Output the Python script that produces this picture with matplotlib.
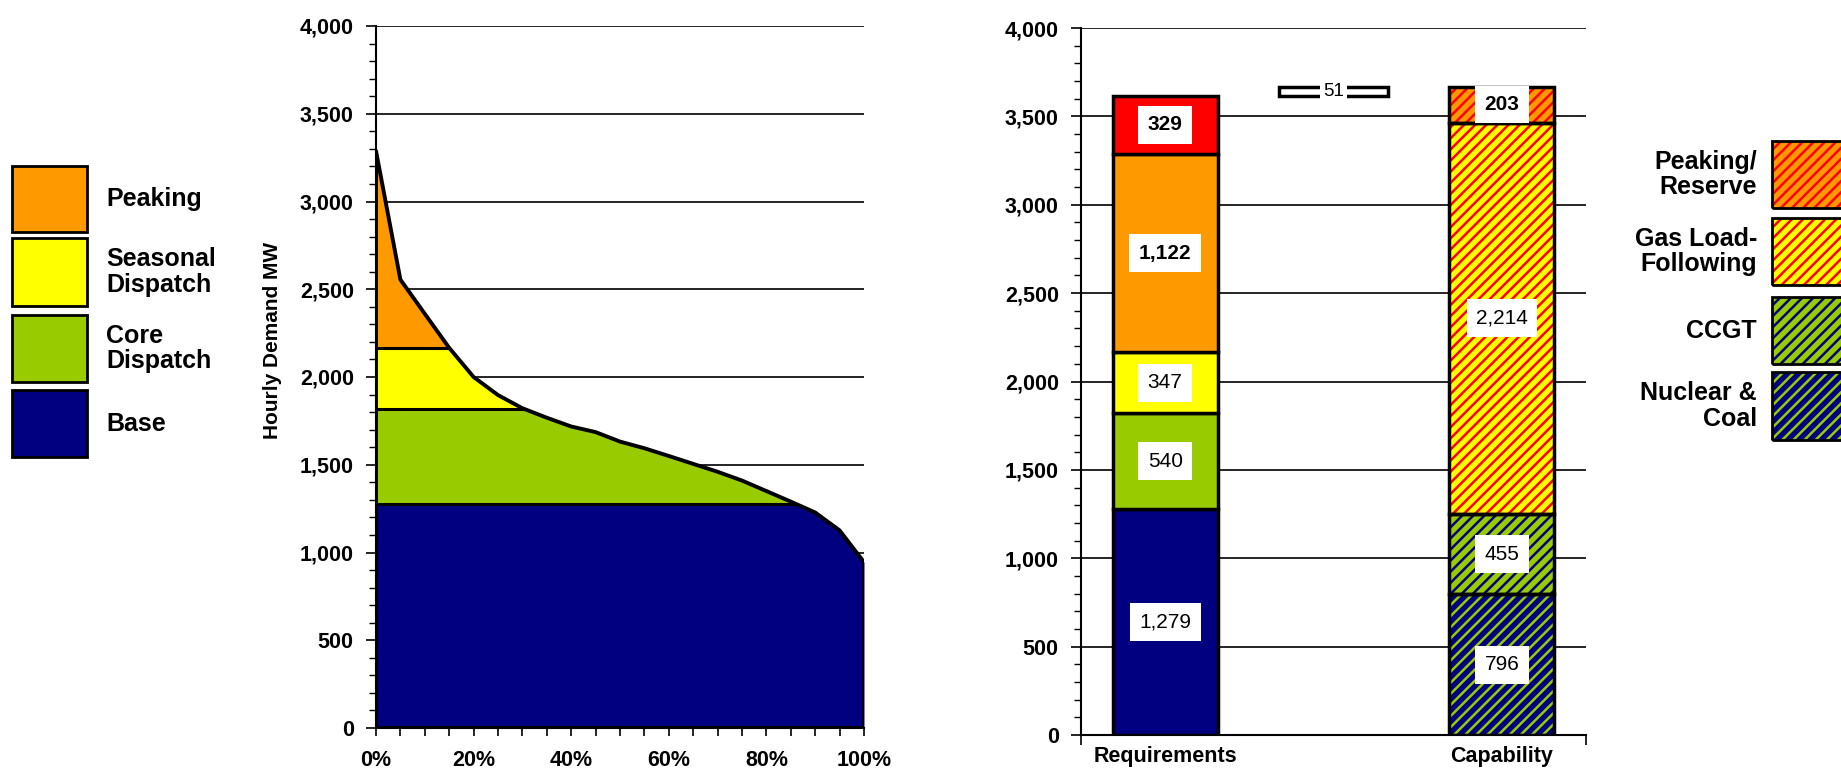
import matplotlib
matplotlib.use("Agg")
import matplotlib.pyplot as plt
from matplotlib import font_manager
from matplotlib.patches import Rectangle
from matplotlib.ticker import MultipleLocator, FuncFormatter

# load duration curve (percent of hours vs hourly demand, MW)
duration_pct = [0, 5, 10, 15, 20, 25, 30, 35, 40, 45, 50,
                55, 60, 65, 70, 75, 80, 85, 90, 95, 100]
hourly_demand = [3288, 2555, 2360, 2166, 2000, 1897, 1822, 1768, 1718, 1686, 1632,
                 1594, 1550, 1505, 1460, 1410, 1350, 1290, 1228, 1126, 945]

# requirements stack (bottom -> top)
req_labels = ["Base", "Core Dispatch", "Seasonal Dispatch", "Peaking", "Reserve"]
req_values = [1279, 540, 347, 1122, 329]
req_colors = ["#000080", "#99CC00", "#FFFF00", "#FF9900", "#FF0000"]
req_bold = [False, False, False, True, True]

# capability stack (bottom -> top)
cap_labels = ["Nuclear &\nCoal", "CCGT", "Gas Load-\nFollowing", "Peaking/\nReserve"]
cap_values = [796, 455, 2214, 203]
cap_face = ["#000080", "#99CC00", "#FFFF00", "#FF9900"]
cap_stripe = ["#99CC00", "#000080", "#FF0000", "#FF0000"]
cap_bold = [False, False, False, True]

categories = ["Requirements", "", "Capability"]
surplus = sum(cap_values) - sum(req_values)

W, H = 1841, 771
plt.rcParams["hatch.linewidth"] = 1.8
plt.rcParams["font.family"] = ["Liberation Sans", "DejaVu Sans"]
names = {f.name for f in font_manager.fontManager.ttflist}
narrow = "Liberation Sans Narrow" if "Liberation Sans Narrow" in names else "Liberation Sans"


def rect_fig(x0, y0, x1, y1):
    # pixel box (top-left origin) -> figure fraction rect
    return [x0 / W, 1 - y1 / H, (x1 - x0) / W, (y1 - y0) / H]


fig = plt.figure(figsize=(W / 100, H / 100), dpi=100)
ax1 = fig.add_axes(rect_fig(376, 26, 864, 728))
ax2 = fig.add_axes(rect_fig(1081, 28, 1586, 735))

tick_font = dict(fontsize=15.5, fontweight="bold")
thousands = FuncFormatter(lambda v, p: "{:,.0f}".format(v))

# ---------------- left: load duration curve ----------------
bounds = [0]
for v in req_values[:3]:
    bounds.append(bounds[-1] + v)
bounds.append(4000)
for i in range(4):
    poly = ax1.fill_between(duration_pct, 0, hourly_demand, color=req_colors[i], lw=0, zorder=2)
    clip = Rectangle((0, bounds[i]), 100, bounds[i + 1] - bounds[i], transform=ax1.transData)
    poly.set_clip_path(clip)

outline = ax1.fill_between(duration_pct, 0, hourly_demand, facecolor="none",
                           edgecolor="k", lw=2.8, zorder=4)
for level in bounds[1:4]:
    ln = ax1.axhline(level, color="k", lw=2.2, zorder=3)
    ln.set_clip_path(outline.get_paths()[0], ax1.transData)

ax1.set_xlim(0, 100)
ax1.set_ylim(0, 4000)
ax1.xaxis.set_major_locator(MultipleLocator(20))
ax1.xaxis.set_minor_locator(MultipleLocator(5))
ax1.xaxis.set_major_formatter(FuncFormatter(lambda v, p: "{:.0f}%".format(v)))

# ---------------- right: requirements vs capability ----------------
bw = 0.625
label_box = dict(boxstyle="square,pad=0.45", fc="white", ec="none")
bottom = 0
for val, col, bold in zip(req_values, req_colors, req_bold):
    ax2.bar(0, val, bottom=bottom, width=bw, color=col, edgecolor="k", lw=2.5, zorder=2)
    ax2.text(0, bottom + val / 2, "{:,}".format(val), ha="center", va="center",
             fontsize=15, family=narrow, fontweight="bold" if bold else "normal", zorder=5,
             bbox=label_box)
    bottom += val

ax2.bar(1, surplus, bottom=bottom, width=bw * 1.04, color="white", edgecolor="k", lw=2.5, zorder=2)
ax2.text(1, bottom + surplus / 2, str(surplus), ha="center", va="center", fontsize=13.5,
         family=narrow, zorder=5, bbox=dict(boxstyle="square,pad=0.15", fc="white", ec="none"))

bottom = 0
for val, face, stripe, bold in zip(cap_values, cap_face, cap_stripe, cap_bold):
    ax2.bar(2, val, bottom=bottom, width=bw, color=face, edgecolor=stripe, hatch="///",
            lw=0, zorder=2)
    ax2.bar(2, val, bottom=bottom, width=bw, fill=False, edgecolor="k", lw=2.5, zorder=3)
    ax2.text(2, bottom + val / 2, "{:,}".format(val), ha="center", va="center",
             fontsize=15, family=narrow, fontweight="bold" if bold else "normal", zorder=5,
             bbox=label_box)
    bottom += val

ax2.set_xlim(-0.5, 2.5)
ax2.set_ylim(0, 4000)
ax2.set_xticks([0, 2])
ax2.set_xticklabels([categories[0], categories[2]], **tick_font)
ax2.set_xticks([-0.5, 2.5], minor=True)
ax2.tick_params(axis="x", which="major", length=0, pad=8)
ax2.tick_params(axis="x", which="minor", length=7, width=1.2, direction="out")

# ---------------- shared styling ----------------
for ax in (ax1, ax2):
    ax.set_axisbelow(True)
    ax.yaxis.grid(True, color="k", lw=1.2)
    ax.yaxis.set_major_locator(MultipleLocator(500))
    ax.yaxis.set_minor_locator(MultipleLocator(100))
    ax.yaxis.set_major_formatter(thousands)
    ax.spines["top"].set_visible(False)
    ax.spines["right"].set_visible(False)
    ax.spines["left"].set_linewidth(1.5)
    ax.spines["bottom"].set_linewidth(1.5)
    ax.tick_params(axis="y", which="major", length=7, width=1.2, pad=9)
    ax.tick_params(axis="y", which="minor", length=5, width=1.0)
    for lab in ax.get_yticklabels():
        lab.set_fontsize(15.5)
        lab.set_fontweight("bold")

ax1.tick_params(axis="x", which="both", length=6, width=1.2, pad=10)
for lab in ax1.get_xticklabels():
    lab.set_fontsize(15.5)
    lab.set_fontweight("bold")

fig.text(273 / W, 1 - 340 / H, "Hourly Demand MW", rotation=90, ha="center", va="center",
         fontsize=15, fontweight="bold")

# ---------------- left legend ----------------
left_boxes = [(166, 232), (238, 306), (315, 382), (390, 457)]
left_names = ["Peaking", "Seasonal\nDispatch", "Core\nDispatch", "Base"]
for (y0, y1), name, col in zip(left_boxes, left_names, req_colors[3::-1]):
    r = rect_fig(12, y0, 87, y1)
    fig.add_artist(Rectangle(r[:2], r[2], r[3], transform=fig.transFigure,
                             facecolor=col, edgecolor="k", lw=2))
    fig.text(106 / W, 1 - (y0 + y1) / 2 / H, name, ha="left", va="center",
             fontsize=18, fontweight="bold", linespacing=1.1)

# ---------------- right legend ----------------
right_boxes = [(141, 208), (218, 285), (297, 364), (372, 440)]
for (y0, y1), name, face, stripe in zip(right_boxes, cap_labels[::-1], cap_face[::-1], cap_stripe[::-1]):
    r = rect_fig(1772, y0, 1850, y1)
    fig.add_artist(Rectangle(r[:2], r[2], r[3], transform=fig.transFigure,
                             facecolor=face, edgecolor=stripe, hatch="///", lw=0))
    fig.add_artist(Rectangle(r[:2], r[2], r[3], transform=fig.transFigure,
                             fill=False, edgecolor="k", lw=2))
    fig.text(1757 / W, 1 - (y0 + y1) / 2 / H, name, ha="right", va="center",
             fontsize=18, fontweight="bold", linespacing=1.1, multialignment="right")

fig.savefig("out.png", dpi=100)
